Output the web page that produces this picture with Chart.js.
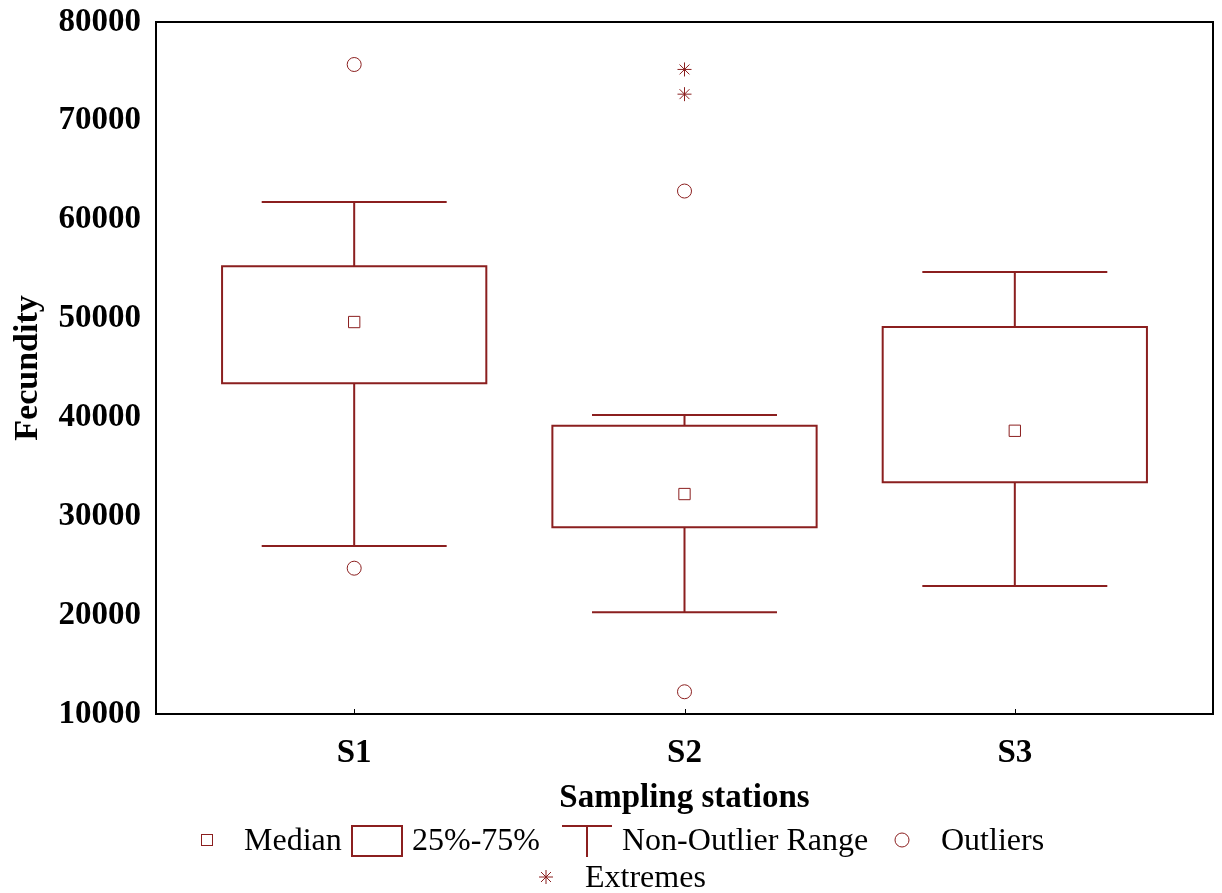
<!DOCTYPE html>
<html>
<head>
<meta charset="utf-8">
<script src="https://cdn.jsdelivr.net/npm/chart.js@4.4.0/dist/chart.umd.min.js"></script>
<style>
html, body { margin: 0; padding: 0; background: #fff; }
#wrap { width: 1222px; height: 893px; }
</style>
</head>
<body>
<div id="wrap"><canvas id="fecundityBox"></canvas></div>
<script>
// Fecundity by sampling station (box plot)

const stations = ["S1", "S2", "S3"];
const whiskerLow = [27000, 20300, 22950];
const q1 = [43450, 28900, 33450];
const medians = [49650, 32250, 38650];
const q3 = [55300, 39150, 49150];
const whiskerHigh = [61800, 40250, 54700];
const outlierStation = [1, 1, 2, 2];
const outlierValues = [75700, 24750, 62900, 12250];
const extremeStation = [2, 2];
const extremeValues = [75200, 72700];
const yMin = 10000;
const yMax = 80000;
const yStep = 10000;

const RED = "#8b1f1f";
const FONT = "'Liberation Serif', 'Times New Roman', serif";
const BOX_HALF = 0.4;
const CAP_HALF = 0.28;

// build line paths for boxes and whiskers
const boxPoints = [];
const whiskerPoints = [];
stations.forEach((s, i) => {
	const x = i + 1;
	boxPoints.push(
		{ x: x - BOX_HALF, y: q1[i] },
		{ x: x + BOX_HALF, y: q1[i] },
		{ x: x + BOX_HALF, y: q3[i] },
		{ x: x - BOX_HALF, y: q3[i] },
		{ x: x - BOX_HALF, y: q1[i] },
		{ x: x, y: null }
	);
	whiskerPoints.push(
		{ x: x, y: q3[i] }, { x: x, y: whiskerHigh[i] }, { x: x, y: null },
		{ x: x - CAP_HALF, y: whiskerHigh[i] }, { x: x + CAP_HALF, y: whiskerHigh[i] }, { x: x, y: null },
		{ x: x, y: q1[i] }, { x: x, y: whiskerLow[i] }, { x: x, y: null },
		{ x: x - CAP_HALF, y: whiskerLow[i] }, { x: x + CAP_HALF, y: whiskerLow[i] }, { x: x, y: null }
	);
});

const medianPoints = medians.map((v, i) => ({ x: i + 1, y: v }));
const outlierPoints = outlierValues.map((v, i) => ({ x: outlierStation[i], y: v }));
const extremePoints = extremeValues.map((v, i) => ({ x: extremeStation[i], y: v }));

// frame + inner x ticks + custom legend
const framePlugin = {
	id: "frame",
	afterDraw(chart) {
		const ctx = chart.ctx;
		const a = chart.chartArea;
		const xs = chart.scales.x;
		ctx.save();
		ctx.strokeStyle = "#000";
		ctx.lineWidth = 2;
		ctx.strokeRect(a.left, a.top, a.right - a.left, a.bottom - a.top);
		ctx.lineWidth = 1;
		stations.forEach((s, i) => {
			const px = Math.round(xs.getPixelForValue(i + 1)) + 0.5;
			ctx.beginPath();
			ctx.moveTo(px, a.bottom);
			ctx.lineTo(px, a.bottom - 5);
			ctx.stroke();
		});

		// legend
		ctx.font = "32px " + FONT;
		ctx.fillStyle = "#000";
		ctx.textBaseline = "middle";
		ctx.textAlign = "left";
		ctx.strokeStyle = RED;
		const y1 = 842;
		const y2 = 879;

		ctx.lineWidth = 1;
		ctx.strokeRect(201.5, 834.5, 11, 11);
		ctx.fillText("Median", 244, y1);

		ctx.lineWidth = 2;
		ctx.strokeRect(352, 826, 50, 30);
		ctx.fillText("25%-75%", 412, y1);

		ctx.beginPath();
		ctx.moveTo(562, 826);
		ctx.lineTo(612, 826);
		ctx.moveTo(587, 826);
		ctx.lineTo(587, 857);
		ctx.stroke();
		ctx.fillText("Non-Outlier Range", 622, y1);

		ctx.lineWidth = 1;
		ctx.beginPath();
		ctx.arc(902, 840, 7, 0, Math.PI * 2);
		ctx.stroke();
		ctx.fillText("Outliers", 941, y1);

		const sy = 877;
		ctx.beginPath();
		ctx.moveTo(546, sy - 7); ctx.lineTo(546, sy + 7);
		ctx.moveTo(539, sy); ctx.lineTo(553, sy);
		ctx.moveTo(541, sy - 5); ctx.lineTo(551, sy + 5);
		ctx.moveTo(551, sy - 5); ctx.lineTo(541, sy + 5);
		ctx.stroke();
		ctx.fillText("Extremes", 585, y2);
		ctx.restore();
	},
};

const boxConfig = {
	type: "scatter",
	data: {
		datasets: [
			{
				label: "25%-75%",
				data: boxPoints,
				showLine: true,
				spanGaps: false,
				borderColor: RED,
				borderWidth: 2,
				borderJoinStyle: "miter",
				borderCapStyle: "square",
				pointRadius: 0,
			},
			{
				label: "Non-Outlier Range",
				data: whiskerPoints,
				showLine: true,
				spanGaps: false,
				borderColor: RED,
				borderWidth: 2,
				pointRadius: 0,
			},
			{
				label: "Median",
				data: medianPoints,
				pointStyle: "rect",
				pointRadius: 8,
				borderColor: RED,
				borderWidth: 1,
				backgroundColor: "rgba(0,0,0,0)",
			},
			{
				label: "Outliers",
				data: outlierPoints,
				pointStyle: "circle",
				pointRadius: 7,
				borderColor: RED,
				borderWidth: 1,
				backgroundColor: "rgba(0,0,0,0)",
			},
			{
				label: "Extremes",
				data: extremePoints,
				pointStyle: "star",
				pointRadius: 7,
				borderColor: RED,
				borderWidth: 1,
			},
		],
	},
	options: {
		responsive: true,
		maintainAspectRatio: false,
		animation: false,
		layout: { padding: { top: 22, right: 3, bottom: 73, left: 0 } },
		plugins: {
			legend: { display: false },
			tooltip: { enabled: false },
		},
		scales: {
			x: {
				type: "linear",
				min: 0.4,
				max: 3.6,
				grid: { display: false, drawTicks: false },
				border: { display: false },
				afterBuildTicks: (scale) => {
					scale.ticks = stations.map((s, i) => ({ value: i + 1 }));
				},
				afterFit: (scale) => {
					scale.height = 106;
					scale.paddingLeft = 0;
					scale.paddingRight = 0;
				},
				ticks: {
					padding: 20,
					color: "#000",
					font: { family: FONT, size: 33, weight: "bold" },
					callback: (v) => stations[v - 1],
				},
				title: {
					display: true,
					text: "Sampling stations",
					color: "#000",
					padding: 2,
					font: { family: FONT, size: 33, weight: "bold" },
				},
			},
			y: {
				min: yMin,
				max: yMax,
				grid: { display: false, drawTicks: false },
				border: { display: false },
				afterFit: (scale) => {
					scale.width = 156;
					scale.paddingTop = 0;
					scale.paddingBottom = 0;
				},
				ticks: {
					stepSize: yStep,
					padding: 15,
					color: "#000",
					font: { family: FONT, size: 33, weight: "bold" },
					callback: (v) => String(v),
				},
				title: {
					display: true,
					text: "Fecundity",
					color: "#000",
					padding: 8,
					font: { family: FONT, size: 34, weight: "bold" },
				},
			},
		},
	},
	plugins: [framePlugin],
};

const FecundityChart = new Chart(
	document.getElementById("fecundityBox"),
	boxConfig
);
</script>
</body>
</html>
